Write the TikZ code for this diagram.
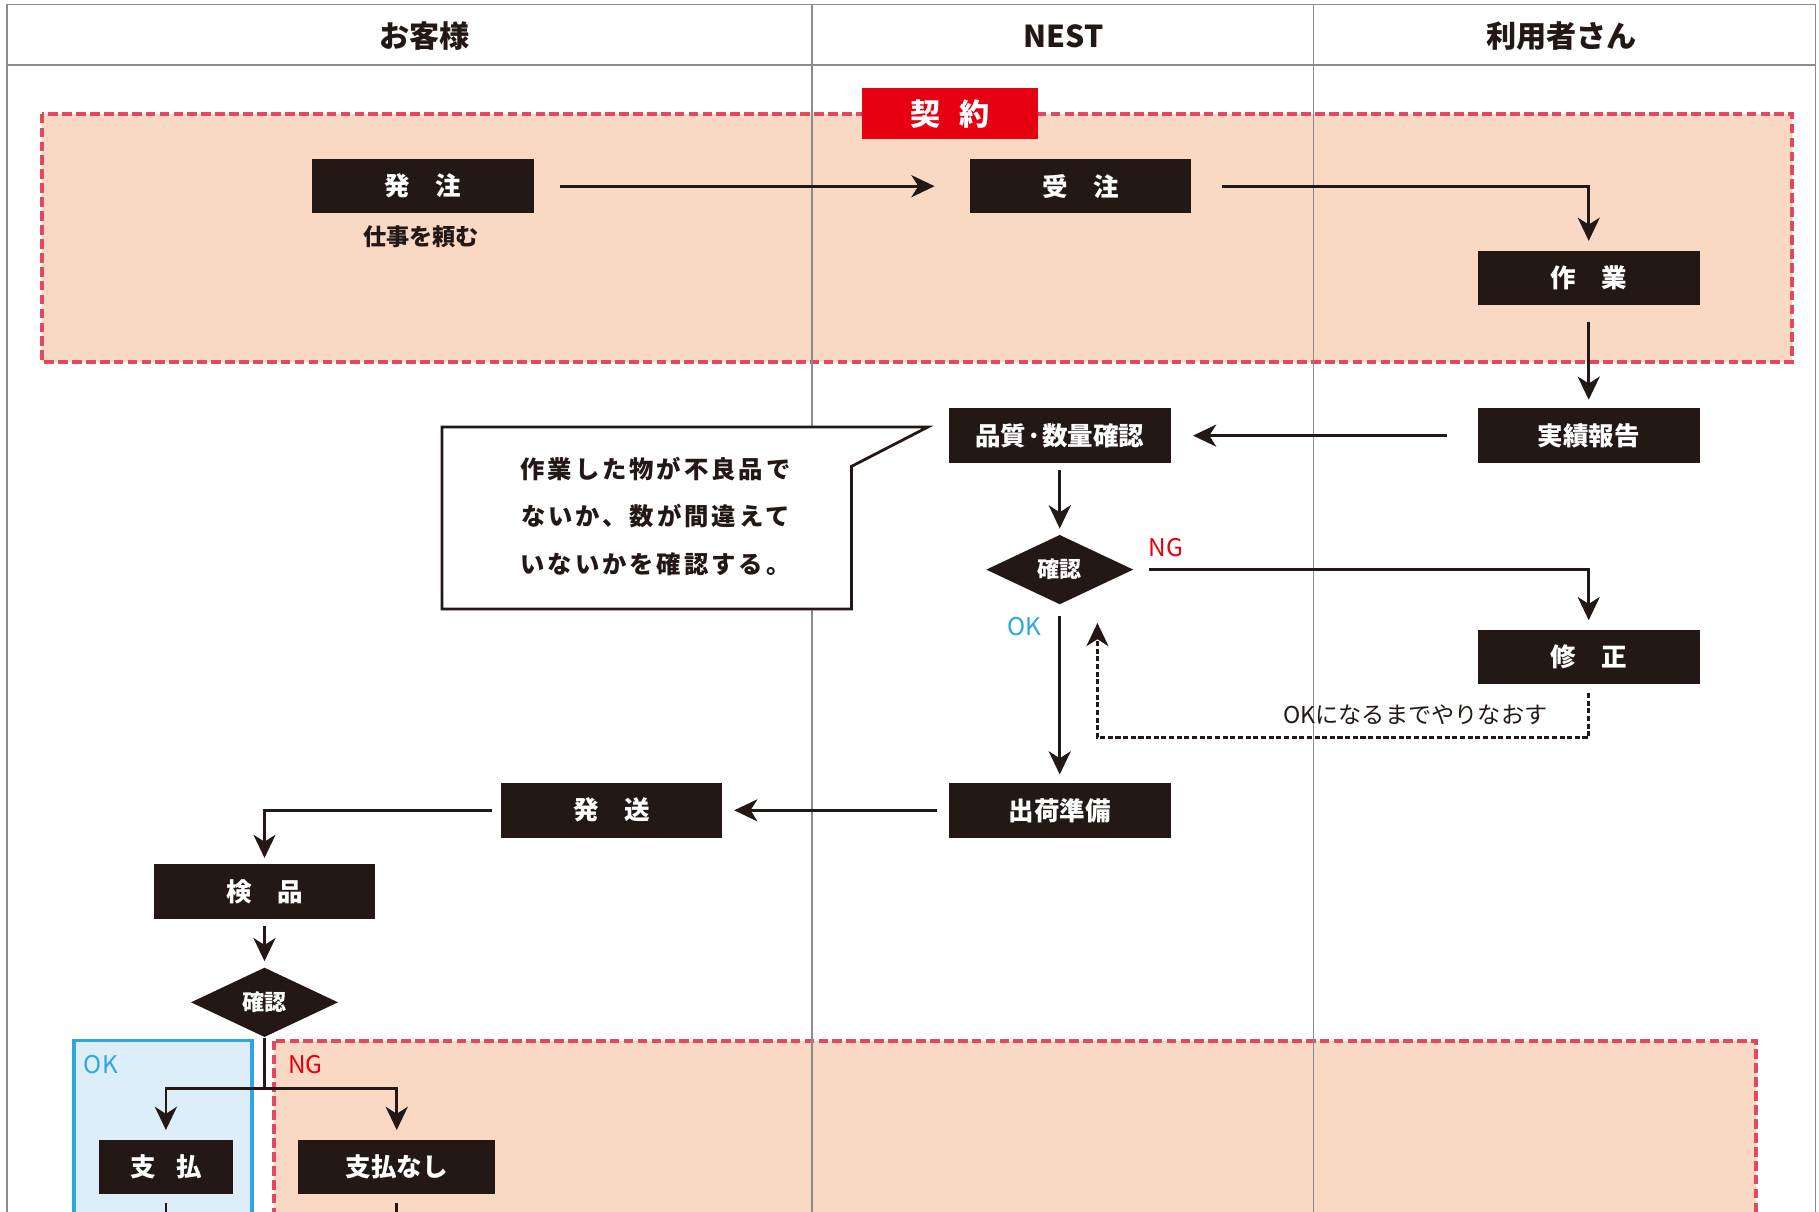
\documentclass[tikz,border=0pt]{standalone}
\usepackage{fontspec}
\setmainfont{Noto Sans CJK JP}
\usetikzlibrary{arrows.meta,shapes.geometric}
\definecolor{peach}{HTML}{F9D8C4}
\definecolor{dred}{HTML}{E4485E}
\definecolor{kred}{HTML}{E60012}
\definecolor{bk}{HTML}{231815}
\definecolor{skyb}{HTML}{2DA7E0}
\definecolor{lblue}{HTML}{DDEEF9}
\definecolor{framegray}{HTML}{8C8C8C}
\begin{document}
\begin{tikzpicture}[x=0.5pt,y=-0.5pt,
  box/.style={fill=bk, text=white, minimum width=95.5pt, minimum height=23.5pt, inner sep=0pt, font=\bfseries\fontsize{11}{12}\selectfont},
  dia/.style={diamond, fill=bk, text=white, aspect=2, minimum width=63.5pt, minimum height=30pt, inner sep=0pt, font=\bfseries\fontsize{9.5}{11}\selectfont},
  arr/.style={draw=bk, line width=1.2pt, -{Stealth[length=10pt,width=9.5pt,inset=3pt]}},
  plainline/.style={draw=bk, line width=1.2pt},
  dasharr/.style={draw=bk, line width=1.2pt, dash pattern=on 2.2pt off 1.1pt, -{Stealth[length=10pt,width=9.5pt,inset=3pt]}},
  contract/.style={fill=peach, draw=dred, line width=1.7pt, dash pattern=on 4.2pt off 1.8pt},
  okarea/.style={fill=lblue, draw=skyb, line width=1.6pt},
  frameline/.style={draw=framegray, line width=0.6pt},
  headtxt/.style={font=\bfseries\fontsize{13}{15}\selectfont, text=bk},
  ngtxt/.style={text=kred, font=\fontsize{10.5}{12}\selectfont, inner sep=0pt},
  oktxt/.style={text=skyb, font=\fontsize{10.5}{12}\selectfont, inner sep=0pt},
  note/.style={text=bk, font=\fontsize{10.5}{12}\selectfont}
]
\clip (0,0) rectangle (1568,1044);
\fill[white] (0,0) rectangle (1568,1044);

% areas
\draw[contract] (36,98) rectangle (1545,312);
\draw[okarea] (64,897) rectangle (217,1070);
\draw[contract] (236,897) rectangle (1514,1070);

% frame and lanes
\draw[frameline] (6,1070) -- (6,4) -- (1565,4) -- (1565,1070);
\draw[frameline] (6,56) -- (1565,56);
\draw[frameline] (700,4) -- (700,1070);
\draw[frameline] (1132,4) -- (1132,1070);

\node[headtxt] (h1) at (366,31) {お客様};
\node[headtxt] (h2) at (917,31) {NEST};
\node[headtxt] (h3) at (1346,31) {利用者さん};

% contract label
\node[fill=kred, text=white, minimum width=76pt, minimum height=22pt, inner sep=0pt, font=\bfseries\fontsize{13}{15}\selectfont] (keiyaku) at (819,98) {契\hspace{0.6em}約};

% nodes
\node[box] (hatchu) at (364.5,160.5) {発\hspace{1em}注};
\node[text=bk, font=\bfseries\fontsize{10}{12}\selectfont] (tanomu) at (363,204) {仕事を頼む};
\node[box] (juchu) at (931.5,160.5) {受\hspace{1em}注};
\node[box] (sagyo) at (1369.5,239.5) {作\hspace{1em}業};
\node[box] (jisseki) at (1369.5,375.5) {実績報告};
\node[box] (hinshitsu) at (913.5,375.5) {品質·数量確認};
\node[dia] (kak1) at (913.5,491) {確認};
\node[box] (shusei) at (1369.5,566.5) {修\hspace{1em}正};
\node[box] (shukka) at (913.5,698.5) {出荷準備};
\node[box] (hasso) at (527,698.5) {発\hspace{1em}送};
\node[box] (kenpin) at (228,768.5) {検\hspace{1em}品};
\node[dia] (kak2) at (228,864) {確認};
\node[box, minimum width=58pt] (shiharai) at (143,1006) {支\hspace{0.8em}払};
\node[box, minimum width=85pt] (nashi) at (342,1006) {支払なし};

% callout
\draw[fill=white, draw=bk, line width=1.2pt] (381,368) -- (800,368) -- (734,402) -- (734,525) -- (381,525) -- cycle;
\node[note, align=center, font=\bfseries\fontsize{10.5}{12}\selectfont] (memo) at (565,445) {\addfontfeature{LetterSpace=12}作業した物が不良品で\\[8.5pt]\addfontfeature{LetterSpace=12}ないか、数が間違えて\\[8.5pt]\addfontfeature{LetterSpace=12}いないかを確認する。};

% labels
\node[ngtxt] (ng1) at (1005,472) {NG};
\node[oktxt] (ok1) at (883,540) {OK};
\node[note, font=\fontsize{10}{12}\selectfont] (redo) at (1220,616) {OKになるまでやりなおす};
\node[oktxt, anchor=west] (ok2) at (72,918) {OK};
\node[ngtxt, anchor=west] (ng2) at (248,918) {NG};

% coordinates
\coordinate (retcorner) at (946,636);
\coordinate (rettip) at (946,537);
\coordinate (split) at (228,938);
\coordinate (paybot1) at (143,1070);
\coordinate (paybot2) at (342,1070);

% connectors
\draw[arr, shorten <=11pt, shorten >=15pt] (hatchu) -- (juchu);
\draw[arr, shorten <=13pt, shorten >=4pt] (juchu.east) -| (sagyo.north);
\draw[arr, shorten <=7pt, shorten >=3.5pt] (sagyo) -- (jisseki);
\draw[arr, shorten <=13pt, shorten >=9.5pt] (jisseki) -- (hinshitsu);
\draw[arr, shorten <=3pt, shorten >=2.5pt] (hinshitsu) -- (kak1);
\draw[arr, shorten <=6.5pt, shorten >=4pt] (kak1.east) -| (shusei.north);
\draw[arr, shorten <=5pt, shorten >=3.5pt] (kak1) -- (shukka);
\draw[dasharr, shorten <=3.5pt] (shusei.south) |- (retcorner) -- (rettip);
\draw[arr, shorten <=5pt, shorten >=5pt] (shukka) -- (hasso);
\draw[arr, shorten <=3.5pt, shorten >=2.5pt] (hasso.west) -| (kenpin.north);
\draw[arr, shorten <=3pt, shorten >=2.5pt] (kenpin) -- (kak2);
\draw[plainline] (kak2.south) -- (split);
\draw[arr, shorten >=4pt] (split) -| (shiharai.north);
\draw[arr, shorten >=4pt] (split) -| (nashi.north);
\draw[plainline, shorten <=3.5pt] (shiharai.south) -- (paybot1);
\draw[plainline, shorten <=3.5pt] (nashi.south) -- (paybot2);
\end{tikzpicture}
\end{document}
